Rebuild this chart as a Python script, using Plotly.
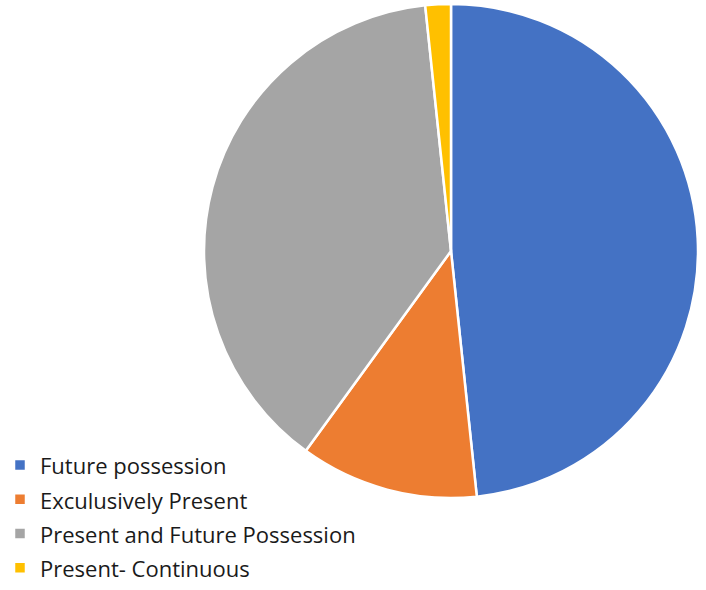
import plotly.graph_objects as go

labels = ["Future possession", "Exculusively Present", "Present and Future Possession", "Present- Continuous"]
values = [29, 7, 23, 1]
colors = ["#4472C4", "#ED7D31", "#A5A5A5", "#FFC000"]

W, H = 706, 590
cx, cy, r = 451, 251, 247

legend_labels = ["<span style='font-size:22px'>%s</span>" % s for s in labels]

fig = go.Figure(go.Pie(
    labels=legend_labels, values=values, sort=False, direction="clockwise", rotation=0,
    marker=dict(colors=colors, line=dict(color="white", width=2.5)),
    textinfo="none", customdata=labels,
    hovertemplate="%{customdata}: %{percent}<extra></extra>",
    domain=dict(x=[(cx - r) / W, (cx + r) / W], y=[max(0, 1 - (cy + r) / H), min(1, 1 - (cy - r) / H)]),
))
fig.update_layout(
    width=W, height=H, margin=dict(l=0, r=0, t=0, b=0),
    paper_bgcolor="white", plot_bgcolor="white",
    font=dict(family="Open Sans", color="#1a1a1a"),
    legend=dict(x=0, y=0, xanchor="left", yanchor="bottom",
                font=dict(size=24, color="#1a1a1a"),
                bgcolor="rgba(0,0,0,0)", traceorder="normal"),
    showlegend=True,
)
fig.write_html("out.html", config={"displayModeBar": False},
               post_script="document.body.style.margin='0';")
